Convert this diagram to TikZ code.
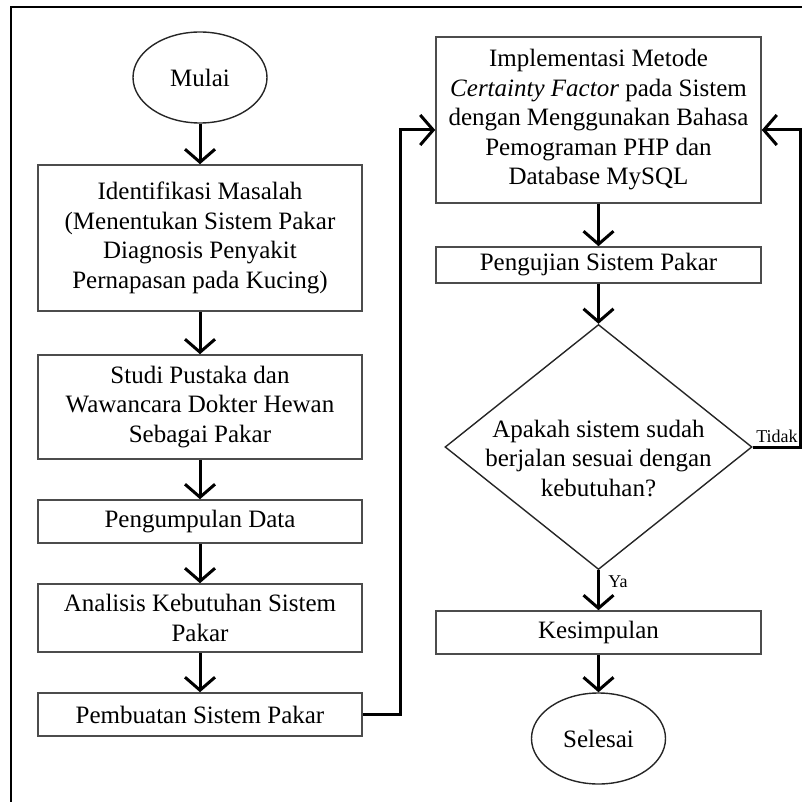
\documentclass[tikz,border=0pt]{standalone}
\usepackage{fontspec}
\setmainfont{Liberation Serif}
\usetikzlibrary{arrows.meta,shapes.geometric}

\begin{document}
\begin{tikzpicture}[x=0.5pt, y=-0.5pt,
    kotak/.style={draw=black!70, line width=0.8pt, minimum width=162pt, inner sep=2pt, align=center, font=\fontsize{12.5}{14.75}\selectfont},
    terminal/.style={ellipse, draw=black!85, line width=0.7pt, minimum width=67pt, minimum height=45.5pt, inner sep=0pt, font=\fontsize{12.5}{14.75}\selectfont},
    keputusan/.style={diamond, draw=black!85, line width=0.7pt, minimum width=153.5pt, minimum height=122.5pt, inner sep=0pt},
    alur/.style={line width=1.5pt, -{Straight Barb[length=6.5pt, width=15pt]}},
    cabang/.style={font=\fontsize{9}{10}\selectfont, inner sep=0pt}]
            \useasboundingbox (0,0) rectangle (802,802);
            % Frame
            \draw[line width=0.6pt] (11,802) -- (11,7) -- (802,7);

            % Left column
            \node[terminal] (mulai) at (200,77.5) {Mulai};
            \node[kotak, minimum height=73pt] (identifikasi) at (200,238) {Identifikasi Masalah\\(Menentukan Sistem Pakar\\Diagnosis Penyakit\\Pernapasan pada Kucing)};
            \node[kotak, minimum height=52pt] (studi) at (200,407) {Studi Pustaka dan\\Wawancara Dokter Hewan\\Sebagai Pakar};
            \node[kotak, minimum height=21.5pt] (kumpul) at (200,521.5) {Pengumpulan Data};
            \node[kotak, minimum height=34pt] (analisis) at (200,618) {Analisis Kebutuhan Sistem\\Pakar};
            \node[kotak, minimum height=21.5pt] (buat) at (200,714.5) {Pembuatan Sistem Pakar};

            % Right column
            \node[kotak, minimum width=162.5pt, minimum height=83pt] (impl) at (598.5,120) {Implementasi Metode\\\textit{Certainty Factor} pada Sistem\\dengan Menggunakan Bahasa\\Pemograman PHP dan\\Database MySQL};
            \node[kotak, minimum width=162.5pt, minimum height=18pt] (uji) at (598.5,265) {Pengujian Sistem Pakar};
            \node[keputusan] (cek) at (598.5,447) {};
            \node[align=center, inner sep=0pt, font=\fontsize{12.5}{14.75}\selectfont] (tanya) at ([yshift=-5.5pt]cek.center) {Apakah sistem sudah\\berjalan sesuai dengan\\kebutuhan?};
            \node[kotak, minimum width=162.5pt, minimum height=21.5pt] (simpul) at (598.5,632.5) {Kesimpulan};
            \node[terminal] (selesai) at (598.5,738.5) {Selesai};

            % Corner points of the loops
            \coordinate (kiri) at (400,130);
            \coordinate (kanan) at (800,130);

            % Arrows
            \draw[alur] (mulai) -- (identifikasi);
            \draw[alur] (identifikasi) -- (studi);
            \draw[alur] (studi) -- (kumpul);
            \draw[alur] (kumpul) -- (analisis);
            \draw[alur] (analisis) -- (buat);
            \draw[alur] (buat.east) -| (kiri) -- ([yshift=-5pt]impl.west);
            \draw[alur] (impl) -- (uji);
            \draw[alur] (uji) -- (cek.north);
            \draw[alur] (cek.east) -| (kanan) -- ([yshift=-5pt]impl.east);
            \draw[alur] (cek.south) -- (simpul);
            \draw[alur] (simpul) -- (selesai);

            % Branch labels
            \node[cabang, anchor=base east] (tidak) at (798,442) {Tidak};
            \node[cabang, anchor=base west] (ya) at (608,587) {Ya};
        \end{tikzpicture}
\end{document}
